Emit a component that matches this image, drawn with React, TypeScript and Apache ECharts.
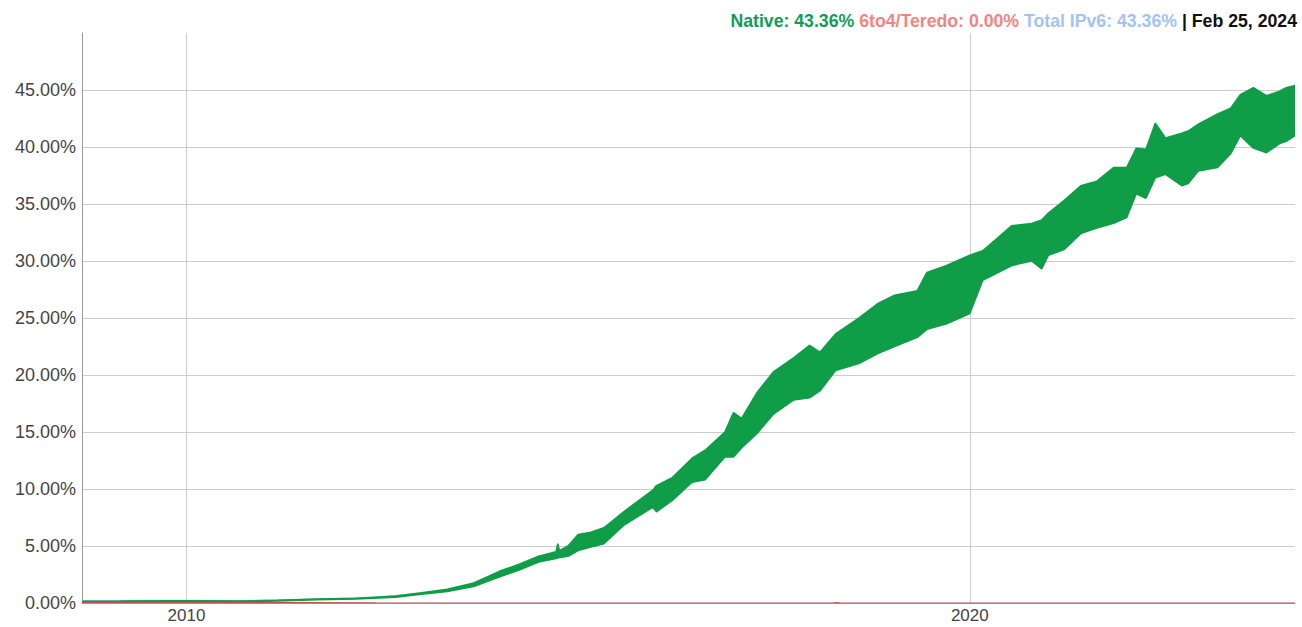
import React, { useEffect, useRef } from 'react';
import * as echarts from 'echarts';

const dates = [
  '2008-09-01', '2009-03-01', '2009-09-01', '2010-03-01', '2010-09-01', '2011-03-01',
  '2011-09-01', '2012-03-01', '2012-09-01', '2013-01-01', '2013-05-01', '2013-09-01',
  '2014-01-01', '2014-04-01', '2014-07-01', '2014-09-20', '2014-09-28', '2014-10-06',
  '2014-11-15', '2015-01-01', '2015-03-01', '2015-05-01', '2015-08-01', '2015-12-15',
  '2016-01-01', '2016-03-15', '2016-06-15', '2016-08-15', '2016-11-15', '2016-12-25',
  '2017-02-01', '2017-04-15', '2017-07-01', '2017-10-01', '2017-12-15', '2018-02-01',
  '2018-04-15', '2018-08-01', '2018-11-01', '2019-01-15', '2019-05-01', '2019-06-15',
  '2019-09-15', '2020-01-01', '2020-03-01', '2020-07-15', '2020-10-15', '2020-12-01',
  '2021-01-01', '2021-03-15', '2021-06-01', '2021-08-15', '2021-11-01', '2022-01-01',
  '2022-02-15', '2022-04-01', '2022-05-15', '2022-07-01', '2022-09-15', '2022-10-15',
  '2022-12-01', '2023-03-01', '2023-05-01', '2023-06-15', '2023-08-15', '2023-10-15',
  '2023-12-15', '2024-01-15', '2024-02-25',
];

const nativeHigh = [
  0.16, 0.17, 0.19, 0.2, 0.18, 0.24,
  0.36, 0.42, 0.62, 0.9, 1.2, 1.75,
  2.8, 3.4, 4.1, 4.5, 5.2, 4.6,
  5.0, 6.0, 6.2, 6.6, 8.0, 9.9,
  10.3, 11.0, 12.7, 13.4, 15.0, 16.7,
  16.2, 18.5, 20.3, 21.5, 22.6, 22.0,
  23.6, 25.0, 26.3, 27.0, 27.4, 29.0,
  29.6, 30.5, 30.9, 33.1, 33.3, 33.6,
  34.2, 35.3, 36.6, 37.0, 38.2, 38.2,
  39.9, 39.8, 42.1, 40.8, 41.2, 41.4,
  42.0, 42.9, 43.4, 44.6, 45.2, 44.5,
  44.9, 45.2, 45.4,
];

const nativeLow = [
  0.1, 0.11, 0.12, 0.13, 0.12, 0.17,
  0.28, 0.34, 0.5, 0.76, 1.0, 1.45,
  2.3, 2.9, 3.6, 3.9, 3.95, 4.0,
  4.1, 4.6, 4.9, 5.2, 6.8, 8.4,
  8.0, 9.0, 10.6, 10.8, 12.8, 12.8,
  13.6, 14.9, 16.6, 17.8, 18.0, 18.6,
  20.4, 21.0, 21.9, 22.5, 23.3, 24.0,
  24.5, 25.4, 28.3, 29.6, 30.0, 29.3,
  30.5, 31.0, 32.4, 32.9, 33.3, 33.8,
  35.9, 35.5, 37.3, 37.6, 36.6, 36.8,
  37.9, 38.2, 39.4, 41.0, 39.9, 39.5,
  40.3, 40.5, 41.0,
];

const teredoDates = ['2008-09-01', '2010-01-01', '2011-06-01', '2012-06-01', '2013-06-01', '2018-04-01', '2018-04-20', '2018-05-10', '2024-02-25'];
const teredoValues = [0.06, 0.05, 0.03, 0.01, 0.0, 0.0, 0.03, 0.0, 0.0];

const totalDates = ['2008-09-01', '2009-06-01', '2010-03-01', '2010-09-01', '2011-06-01', '2012-06-01', '2013-01-01'];
const totalValues = [0.2, 0.21, 0.22, 0.2, 0.28, 0.45, 0.85];

const yTicks = [0, 5, 10, 15, 20, 25, 30, 35, 40, 45];
const xTickYears = [2010, 2020];

const legendNative = 'Native: 43.36%';
const legendTeredo = '6to4/Teredo: 0.00%';
const legendTotal = 'Total IPv6: 43.36%';
const legendDate = '| Feb 25, 2024';

const GREEN = '#0f9d48';
const FONT = '"Liberation Sans", Arial, sans-serif';
const HS = 17.7;

const ts = (d: string) => Date.parse(d + 'T00:00:00Z');

export default function App() {
  const ref = useRef<HTMLDivElement>(null);
  useEffect(() => {
    document.body.style.margin = '0';
    const chart = echarts.init(ref.current!, null, { renderer: 'svg' });
    const lowData = dates.map((d, i) => [ts(d), nativeLow[i]]);
    const bandData = dates.map((d, i) => [ts(d), +(nativeHigh[i] - nativeLow[i]).toFixed(3)]);
    const xTicks = xTickYears.map((y) => Date.UTC(y, 0, 1));
    const xMin = ts('2008-09-01');
    const xMax = ts('2024-02-25');
    chart.setOption({
      animation: false,
      backgroundColor: '#ffffff',
      title: {
        text: `{a|${legendNative}} {b|${legendTeredo}} {c|${legendTotal}} {d|${legendDate}}`,
        right: 0,
        top: 7,
        textStyle: {
          fontFamily: FONT,
          fontSize: HS,
          fontWeight: 'bold',
          rich: {
            a: { color: '#0f9d58', fontSize: HS, fontWeight: 'bold', fontFamily: FONT },
            b: { color: '#f08583', fontSize: HS, fontWeight: 'bold', fontFamily: FONT },
            c: { color: '#a4c2f4', fontSize: HS, fontWeight: 'bold', fontFamily: FONT },
            d: { color: '#111111', fontSize: HS, fontWeight: 'bold', fontFamily: FONT },
          },
        },
      },
      grid: { left: 82, right: 7, top: 33, bottom: 24, containLabel: false },
      xAxis: [
        {
          type: 'time',
          min: xMin,
          max: xMax,
          axisLine: { show: false },
          axisTick: { show: false },
          axisLabel: { show: false },
          splitLine: { show: false },
        },
        {
          type: 'value',
          position: 'bottom',
          min: xMin,
          max: xMax,
          axisLine: { show: true, onZero: false, lineStyle: { color: '#999999', width: 1 } },
          axisTick: { show: false, customValues: xTicks },
          axisLabel: {
            customValues: xTicks,
            formatter: (v: number) => String(new Date(v).getUTCFullYear()),
            color: '#444444',
            fontSize: 17,
            fontFamily: FONT,
            margin: 4,
          },
          splitLine: { show: true, lineStyle: { color: '#cccccc', width: 1 } },
        },
      ],
      yAxis: {
        type: 'value',
        min: 0,
        max: 50,
        interval: 5,
        axisLine: { show: true, lineStyle: { color: '#999999', width: 1 } },
        axisTick: { show: false },
        axisLabel: {
          formatter: (v: number) => (yTicks.includes(v) ? v.toFixed(2) + '%' : ''),
          color: '#444444',
          fontSize: 18,
          fontFamily: FONT,
          margin: 6,
          showMaxLabel: false,
        },
        splitLine: { show: true, showMaxLine: false, lineStyle: { color: '#cccccc', width: 1 } },
      },
      series: [
        {
          name: 'Total IPv6',
          type: 'line',
          xAxisIndex: 0,
          data: totalDates.map((d, i) => [ts(d), totalValues[i]]),
          showSymbol: false,
          lineStyle: { color: '#a4c2f4', width: 1.5 },
          z: 1,
        },
        {
          name: 'Native low',
          type: 'line',
          xAxisIndex: 0,
          stack: 'native',
          data: lowData,
          showSymbol: false,
          lineStyle: { color: GREEN, width: 1.5 },
          z: 2,
        },
        {
          name: 'Native',
          type: 'line',
          xAxisIndex: 0,
          stack: 'native',
          data: bandData,
          showSymbol: false,
          lineStyle: { color: GREEN, width: 1.5 },
          areaStyle: { color: GREEN, opacity: 1 },
          z: 2,
        },
        {
          name: '6to4/Teredo',
          type: 'line',
          xAxisIndex: 0,
          data: teredoDates.map((d, i) => [ts(d), teredoValues[i]]),
          showSymbol: false,
          lineStyle: { color: '#c0504d', width: 1.2 },
          z: 3,
        },
      ],
    });
    return () => chart.dispose();
  }, []);
  return <div ref={ref} style={{ width: 1302, height: 627 }} />;
}
